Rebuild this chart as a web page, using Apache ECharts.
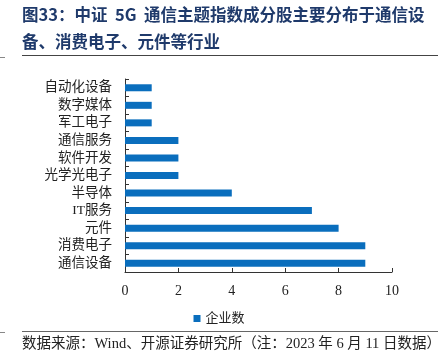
<!DOCTYPE html>
<html><head><meta charset="utf-8">
<script src="https://cdn.jsdelivr.net/npm/echarts@6/dist/echarts.min.js"></script>
<style>html,body{margin:0;padding:0;background:#fff}#c{width:438px;height:361px}</style>
</head><body><div id="c"></div>
<script>
const categories = ['通信设备','消费电子','元件','IT服务','半导体','光学光电子','软件开发','通信服务','军工电子','数字媒体','自动化设备'];
const companyCounts = [9,9,8,7,4,2,2,2,1,1,1];
const seriesName = '企业数';
const titleLine1 = '图33：中证  5G  通信主题指数成分股主要分布于通信设';
const titleLine2 = '备、消费电子、元件等行业';
const sourceText = '数据来源：Wind、开源证券研究所（注：2023 年 6 月 11 日数据）';

const serif = '"Liberation Serif","Noto Sans CJK SC",serif';
const chart = echarts.init(document.getElementById('c'), null, {renderer:'canvas'});
chart.setOption({
  animation:false,
  backgroundColor:'#fff',
  grid:{left:125, right:46, top:79, bottom:89},
  xAxis:{type:'value', min:0, max:10, interval:2,
    axisLine:{show:true, lineStyle:{color:'#333', width:1}},
    axisTick:{show:true, inside:true, length:4, lineStyle:{color:'#333'}},
    splitLine:{show:false},
    axisLabel:{color:'#222', fontSize:14, fontFamily:serif, margin:12}},
  yAxis:{type:'category', data:categories,
    axisLine:{show:true, lineStyle:{color:'#333', width:1}},
    axisTick:{show:true, inside:true, length:4, lineStyle:{color:'#333'}},
    axisLabel:{color:'#222', fontSize:13.5, fontFamily:serif, margin:13, interval:0}},
  legend:{data:[seriesName], bottom:31, left:'center', itemWidth:7, itemHeight:7, itemGap:4,
    icon:'rect', textStyle:{fontSize:13, color:'#222', fontFamily:serif}},
  series:[{name:seriesName, type:'bar', data:companyCounts, barWidth:7,
    itemStyle:{color:'#0A6EBD'}}],
  graphic:[
    {type:'text', left:22, top:6, style:{text:titleLine1, font:'bold 16.5px "Noto Sans CJK SC"', fill:'#1F3A6B'}},
    {type:'text', left:22, top:33, style:{text:titleLine2, font:'bold 16.5px "Noto Sans CJK SC"', fill:'#1F3A6B'}},
    {type:'line', shape:{x1:22,y1:55.5,x2:438,y2:55.5}, style:{stroke:'#444', lineWidth:1}},
    {type:'line', shape:{x1:0,y1:57.5,x2:5,y2:57.5}, style:{stroke:'#888', lineWidth:1}},
    {type:'line', shape:{x1:22,y1:331.5,x2:438,y2:331.5}, style:{stroke:'#666', lineWidth:1}},
    {type:'line', shape:{x1:0,y1:332.5,x2:5,y2:332.5}, style:{stroke:'#888', lineWidth:1}},
    {type:'text', left:22, top:337, style:{text:sourceText, font:'14.5px "Liberation Serif","Noto Sans CJK SC"', fill:'#222'}}
  ]
});
</script></body></html>
